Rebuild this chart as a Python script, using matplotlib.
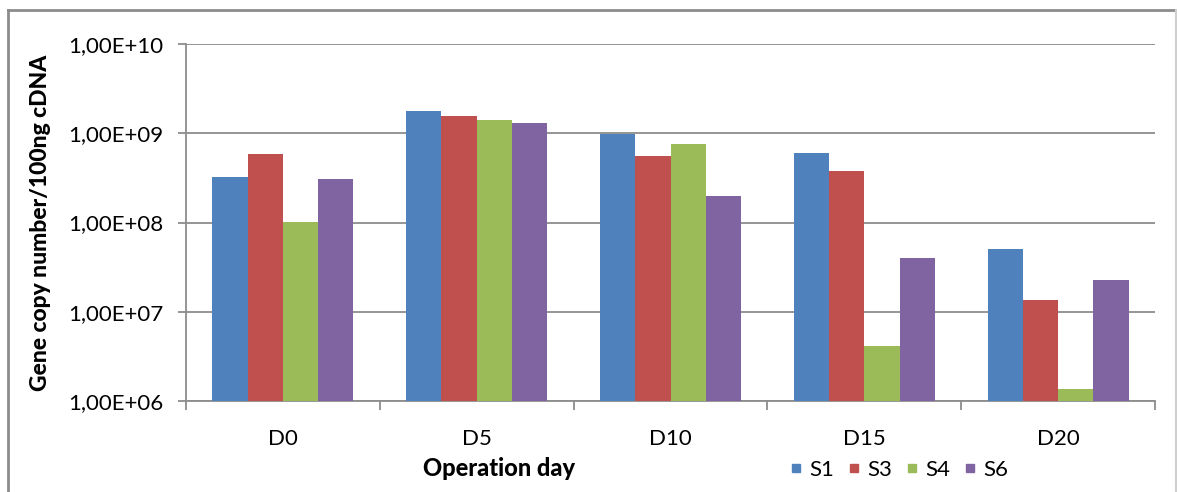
import matplotlib
matplotlib.use("Agg")
import matplotlib.pyplot as plt
import numpy as np
from matplotlib.lines import Line2D

plt.rcParams['font.family'] = ['Lato', 'DejaVu Sans']

# Operation days and gene copy numbers per sample
days = ["D0", "D5", "D10", "D15", "D20"]
samples = ["S1", "S3", "S4", "S6"]
s1 = [3.25e8, 1.77e9, 9.7e8, 6.0e8, 5.1e7]
s3 = [5.85e8, 1.58e9, 5.5e8, 3.8e8, 1.35e7]
s4 = [1.0e8, 1.39e9, 7.5e8, 4.1e6, 1.35e6]
s6 = [3.05e8, 1.31e9, 1.98e8, 4.0e7, 2.28e7]
series = [s1, s3, s4, s6]
colors = ["#4F81BD", "#C0504D", "#9BBB59", "#8064A2"]
ytick_vals = [1e6, 1e7, 1e8, 1e9, 1e10]
ytick_labels = ["1,00E+06", "1,00E+07", "1,00E+08", "1,00E+09", "1,00E+10"]

W, H = 1177, 492
fig = plt.figure(figsize=(W / 100, H / 100), dpi=100)
ax = fig.add_axes([186 / W, 1 - 401 / H, (1155 - 186) / W, (401 - 44) / H])

x = np.arange(len(days))
bw = 1 / 5.5
for i, (vals, c) in enumerate(zip(series, colors)):
    offs = (i - 1.5) * bw
    ax.bar(x + offs, vals, width=bw, color=c, bottom=1, linewidth=0, zorder=3,
           label=samples[i])

ax.set_yscale("log")
ax.set_ylim(1e6, 1e10)
ax.set_xlim(-0.5, len(days) - 0.5)
ax.set_yticks(ytick_vals)
ax.set_yticklabels(ytick_labels)
ax.yaxis.set_minor_locator(matplotlib.ticker.NullLocator())
ax.set_xticks(x)
ax.set_xticklabels(days)
ax.set_xticks(np.arange(len(days) + 1) - 0.5, minor=True)

grid_c = "#8C8C8C"
ax.grid(axis="y", color=grid_c, linewidth=1.3, zorder=0)
for s in ["top", "right"]:
    ax.spines[s].set_visible(False)
for s in ["left", "bottom"]:
    ax.spines[s].set_color(grid_c)
    ax.spines[s].set_linewidth(1.3)

ax.tick_params(axis="y", which="major", length=6, width=1.3, color=grid_c,
               labelsize=16, pad=10, labelcolor="#000000")
ax.tick_params(axis="x", which="major", length=0, labelsize=16, pad=20)
ax.tick_params(axis="x", which="minor", length=6.5, width=1.3, color=grid_c)

ax.set_ylabel("Gene copy number/100ng cDNA", fontsize=16.5, fontweight="black")
ax.yaxis.set_label_coords(-135 / (1155 - 186), 0.5)
fig.text(499 / W, 1 - 468 / H, "Operation day", fontsize=17, fontweight="black",
         ha="center", va="center")

handles = [Line2D([], [], marker="s", linestyle="none", color=c, markersize=6)
           for c in colors]
fig.legend(handles, samples, loc="center left", ncol=4, frameon=False,
           bbox_to_anchor=(789 / W, 1 - 470 / H), fontsize=16,
           handlelength=0.6, handletextpad=0.3, columnspacing=0.6,
           borderaxespad=0, borderpad=0)

# outer chart border
fig.add_artist(Line2D([7.5 / W, 7.5 / W], [0, 1 - 9.5 / H], transform=fig.transFigure,
                      color="#8C8C8C", linewidth=2))
fig.add_artist(Line2D([7.5 / W, 1176 / W], [1 - 9.5 / H, 1 - 9.5 / H],
                      transform=fig.transFigure, color="#8C8C8C", linewidth=2))
fig.add_artist(Line2D([1176 / W, 1176 / W], [0, 1 - 9.5 / H], transform=fig.transFigure,
                      color="#CFCFCF", linewidth=1.5))

fig.savefig("out.png", dpi=100)
